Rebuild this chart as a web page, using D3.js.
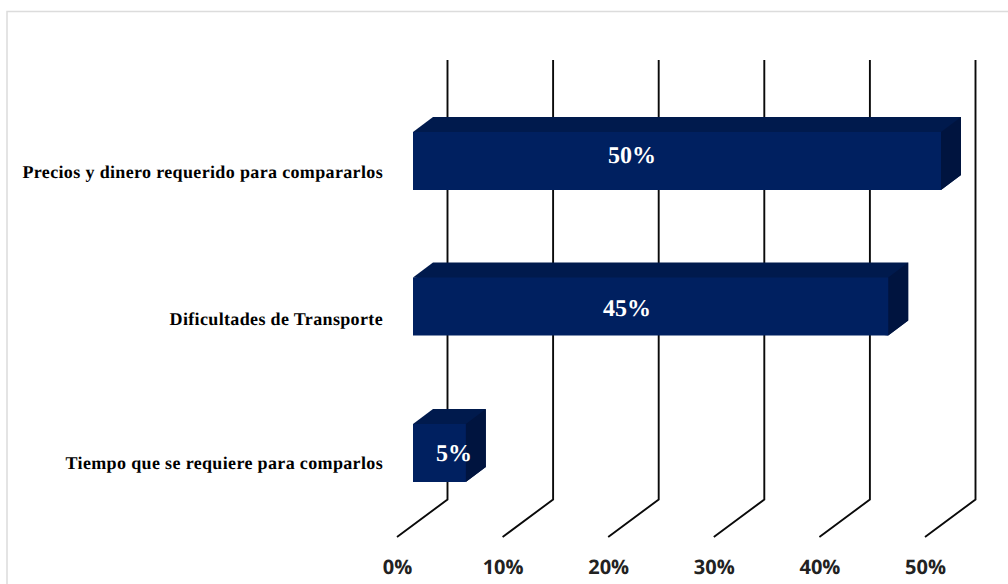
<!DOCTYPE html>
<html><head><meta charset="utf-8">
<script src="https://cdnjs.cloudflare.com/ajax/libs/d3/7.8.5/d3.min.js"></script>
<style>html,body{margin:0;padding:0;background:#fff}svg{display:block;text-rendering:geometricPrecision}</style></head>
<body><svg id="c" width="1008" height="584"></svg>
<script>
const categories = ["Precios y dinero requerido para compararlos","Dificultades de Transporte","Tiempo que se requiere para comparlos"];
const values = [50,45,5];
const valueLabels = ["50%","45%","5%"];
const ticks = [0,10,20,30,40,50];
const svg = d3.select("#c");
svg.append("rect").attr("x",7).attr("y",11.5).attr("width",1100).attr("height",700).attr("fill","#fff").attr("stroke","#dcdcdc").attr("stroke-width",1.5);
const x = d3.scaleLinear().domain([0,50]).range([397,925]);
const dx = 50.5, dy = -37.5;
const wallTop = 60, floorY = 537;
ticks.forEach(t=>{
  svg.append("path").attr("d",`M${x(t)},${floorY}L${x(t)+dx},${floorY+dy}V${wallTop}`).attr("fill","none").attr("stroke","#0a0a0a").attr("stroke-width",1.9);
  svg.append("text").attr("x",x(t)+0.5).attr("y",574).attr("text-anchor","middle").attr("font-family","'Open Sans',sans-serif").attr("font-weight",700).attr("font-size",20).attr("fill","#222").text(t+"%");
});
const base = 413, barH = 58, ox = 20, oy = -15;
const bar = d3.scaleLinear().domain([0,50]).range([0,528]);
const yc = [161,306.5,453];
const labelX = [632,627,454];
const labelY = [163,316,461];
const catY = [178,325,469];
categories.forEach((c,i)=>{
  const x0=base, x1=base+bar(values[i]), t=yc[i]-barH/2, b=yc[i]+barH/2;
  const g=svg.append("g");
  g.append("polygon").attr("points",`${x0},${t} ${x0+ox},${t+oy} ${x1+ox},${t+oy} ${x1+ox},${b+oy} ${x1},${b}`).attr("fill","#001a4d");
  g.append("polygon").attr("points",`${x1},${t} ${x1+ox},${t+oy} ${x1+ox},${b+oy} ${x1},${b}`).attr("fill","#00143f");
  g.append("rect").attr("x",x0).attr("y",t).attr("width",x1-x0).attr("height",barH).attr("fill","#002060");
  g.append("text").attr("x",labelX[i]).attr("y",labelY[i]).attr("text-anchor","middle").attr("font-family","'Liberation Serif',serif").attr("font-weight",700).attr("font-size",24).attr("fill","#fff").text(valueLabels[i]);
  svg.append("text").attr("x",383).attr("y",catY[i]).attr("text-anchor","end").attr("font-family","'Liberation Serif',serif").attr("font-weight",700).attr("font-size",18).attr("letter-spacing",0.35).attr("fill","#000").text(c);
});
</script></body></html>
